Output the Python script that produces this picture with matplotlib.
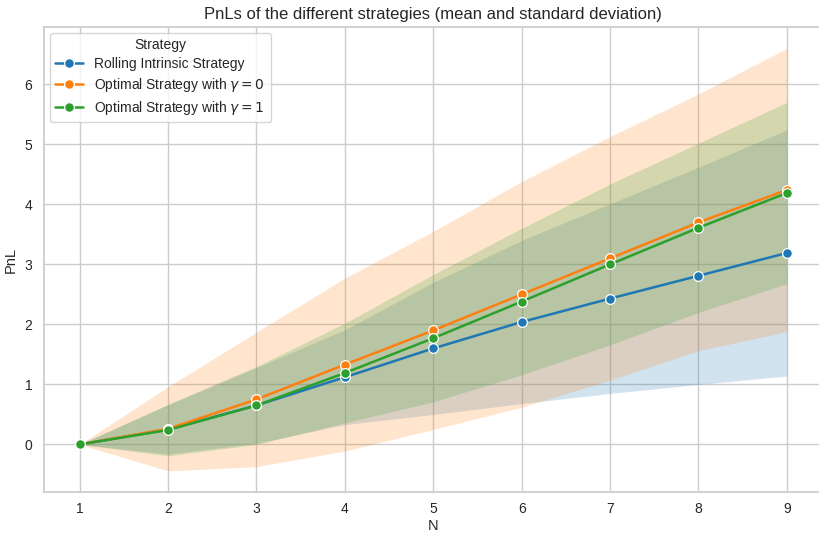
import matplotlib
matplotlib.use("Agg")
import matplotlib.pyplot as plt
import seaborn as sns
import numpy as np

# PnL per horizon N: mean and standard deviation for each strategy
horizons = [1, 2, 3, 4, 5, 6, 7, 8, 9]

rolling_mean = [0.0, 0.25, 0.65, 1.12, 1.60, 2.04, 2.43, 2.81, 3.19]
rolling_sd = [0.0, 0.41, 0.63, 0.79, 1.10, 1.36, 1.58, 1.81, 2.05]

opt0_mean = [0.0, 0.26, 0.75, 1.33, 1.90, 2.50, 3.10, 3.70, 4.24]
opt0_sd = [0.0, 0.70, 1.12, 1.44, 1.65, 1.88, 2.03, 2.14, 2.36]

opt1_mean = [0.0, 0.24, 0.65, 1.19, 1.77, 2.38, 3.00, 3.61, 4.19]
opt1_sd = [0.0, 0.43, 0.65, 0.83, 1.06, 1.22, 1.34, 1.41, 1.51]

strategy_labels = [
    "Rolling Intrinsic Strategy",
    r"Optimal Strategy with $\gamma = 0$",
    r"Optimal Strategy with $\gamma = 1$",
]

sns.set_theme(style="whitegrid")
plt.rcParams["font.family"] = ["Liberation Sans", "DejaVu Sans"]
plt.rcParams["mathtext.fontset"] = "dejavusans"

fig, ax = plt.subplots(figsize=(8.19, 5.33), dpi=100)
fig.subplots_adjust(left=0.054, right=1.004, top=0.949, bottom=0.077)

palette = sns.color_palette("tab10")[:3]
series = [(rolling_mean, rolling_sd), (opt0_mean, opt0_sd), (opt1_mean, opt1_sd)]

for (mean, sd), color, label in zip(series, palette, strategy_labels):
    m = np.array(mean)
    s = np.array(sd)
    ax.fill_between(horizons, m - s, m + s, color=color, alpha=0.2, linewidth=0)
    ax.plot(horizons, m, color=color, linewidth=1.8, marker="o", markersize=7,
            markeredgecolor="white", markeredgewidth=0.9, label=label)

ax.set_xticks(horizons)
ax.tick_params(axis="x", labelsize=10, pad=1.5)
ax.tick_params(axis="y", labelsize=10, pad=2.5)
ax.set_xlabel("N", fontsize=10.5, labelpad=2)
ax.set_ylabel("PnL", fontsize=10.5, labelpad=5)
ax.set_title("PnLs of the different strategies (mean and standard deviation)", fontsize=12)

leg = ax.legend(title="Strategy", loc="upper left", fontsize=10, title_fontsize=10,
                labelspacing=0.35, borderaxespad=0.4)

fig.savefig("out.png", dpi=100)
plt.close(fig)
